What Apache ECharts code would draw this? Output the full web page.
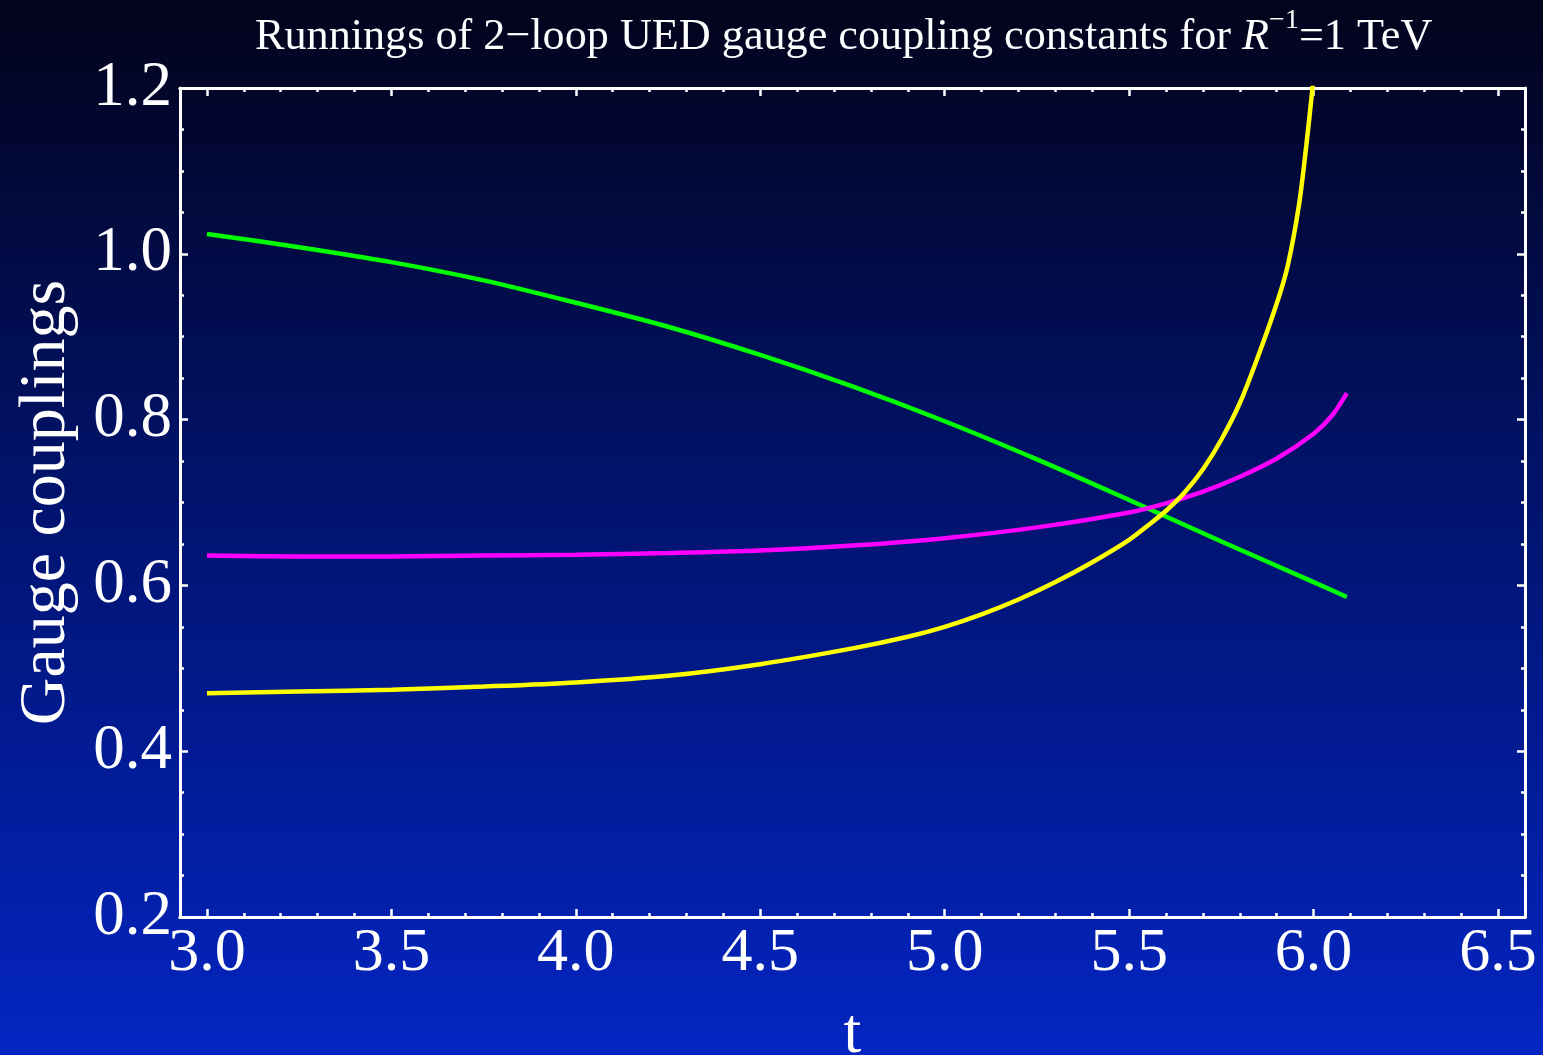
<!DOCTYPE html>
<html><head><meta charset="utf-8">
<script src="https://cdn.jsdelivr.net/npm/echarts@6/dist/echarts.min.js"></script>
<style>html,body{margin:0;padding:0;background:#000;}#c{width:1543px;height:1055px;}</style>
</head><body><div id="c"></div>
<script>
// ---- data ----
const titleMain = 'Runnings of 2\u2212loop UED gauge coupling constants for ';
const titleTail = '=1 TeV';
const xName = 't';
const yName = 'Gauge couplings';

const xMajorTicks = [3.0, 3.5, 4.0, 4.5, 5.0, 5.5, 6.0, 6.5];
const xMinorTicks = [3.0, 3.1, 3.2, 3.3, 3.4, 3.5, 3.6, 3.7, 3.8, 3.9, 4.0, 4.1, 4.2, 4.3, 4.4, 4.5, 4.6, 4.7, 4.8, 4.9,
                     5.0, 5.1, 5.2, 5.3, 5.4, 5.5, 5.6, 5.7, 5.8, 5.9, 6.0, 6.1, 6.2, 6.3, 6.4, 6.5];
const yTickLabels = [0.2, 0.4, 0.6, 0.8, 1.0, 1.2];

const tGreen = [3.0, 3.25, 3.5, 3.75, 4.0, 4.25, 4.5, 4.75, 5.0, 5.25, 5.5, 5.75, 6.0, 6.09];
const vGreen = [1.024, 1.008, 0.990, 0.968, 0.941, 0.912, 0.878, 0.840, 0.798, 0.752, 0.703, 0.653, 0.604, 0.586];

const tMagenta = [3.0, 3.25, 3.5, 3.75, 4.0, 4.25, 4.5, 4.75, 5.0, 5.25, 5.5, 5.6, 5.7, 5.8, 5.9, 6.0, 6.05, 6.09];
const vMagenta = [0.636, 0.635, 0.635, 0.636, 0.637, 0.639, 0.642, 0.648, 0.657, 0.670, 0.688, 0.699, 0.713, 0.731, 0.753, 0.783, 0.805, 0.832];

const tYellow = [3.0, 3.25, 3.5, 3.75, 4.0, 4.25, 4.5, 4.75, 4.9, 5.0, 5.1, 5.2, 5.3, 5.4, 5.5, 5.55, 5.6, 5.65, 5.7, 5.75, 5.8,
                 5.85, 5.9, 5.93, 5.96, 5.98, 5.996, 6.005];
const vYellow = [0.470, 0.472, 0.474, 0.478, 0.483, 0.491, 0.505, 0.524, 0.538, 0.550, 0.565, 0.583, 0.604, 0.628, 0.655, 0.672, 0.690, 0.712, 0.740, 0.776, 0.820,
                 0.877, 0.940, 0.986, 1.058, 1.130, 1.196, 1.236];

// ---- chart ----
const FONT = 'Liberation Serif';
const X_MIN = 2.927, X_MAX = 6.573, Y_MIN = 0.2, Y_MAX = 1.2;
const zip = (a, b) => a.map((v, i) => [v, b[i]]);

const frameLine = { show: true, onZero: false, lineStyle: { color: '#fff', width: 3 } };
function xAxisDef(pos, ticks, len, labels) {
  return {
    type: 'value', position: pos, min: X_MIN, max: X_MAX,
    axisLine: frameLine,
    axisTick: { show: true, inside: true, length: len, customValues: ticks, lineStyle: { color: '#fff', width: 2.5 } },
    axisLabel: labels ? { show: true, customValues: xMajorTicks, formatter: v => v.toFixed(1), color: '#fff',
                          fontFamily: FONT, fontSize: 62, margin: 6 } : { show: false },
    splitLine: { show: false },
    name: labels ? xName : '', nameLocation: 'middle', nameGap: 86,
    nameTextStyle: { color: '#fff', fontFamily: FONT, fontSize: 64 }
  };
}
function yAxisDef(pos, labels) {
  return {
    type: 'value', position: pos, min: Y_MIN, max: Y_MAX, interval: 0.2,
    axisLine: frameLine,
    axisTick: { show: true, inside: true, length: 8, lineStyle: { color: '#fff', width: 2.5 } },
    minorTick: { show: true, splitNumber: 4, length: 4, lineStyle: { color: '#fff', width: 2.5 } },
    axisLabel: labels ? { show: true, customValues: yTickLabels, formatter: v => v.toFixed(1), color: '#fff',
                          fontFamily: FONT, fontSize: 63, margin: 8 } : { show: false },
    splitLine: { show: false }, minorSplitLine: { show: false },
    name: labels ? yName : '', nameLocation: 'middle', nameGap: 100, nameRotate: 90,
    nameTextStyle: { color: '#fff', fontFamily: FONT, fontSize: 66 }
  };
}
function line(data, color) {
  return { type: 'line', data: data, showSymbol: false, symbol: 'none', smooth: 0.3,
           clip: true, lineStyle: { color: color, width: 4.5 }, xAxisIndex: 0, yAxisIndex: 0, z: 5 };
}

const chart = echarts.init(document.getElementById('c'), null, { renderer: 'canvas' });
chart.setOption({
  animation: false,
  backgroundColor: new echarts.graphic.LinearGradient(0, 0, 0, 1, [
    { offset: 0, color: '#03031b' }, { offset: 0.5, color: '#011472' }, { offset: 1, color: '#0425c2' }
  ]),
  title: {
    left: 250, top: 2,
    text: '{n|' + titleMain + '}{i|R}{s|\u22121}{n|' + titleTail + '}',
    textStyle: {
      fontWeight: 'normal',
      rich: {
        n: { color: '#fff', fontFamily: FONT, fontSize: 44.2, fontWeight: 'normal', lineHeight: 52, verticalAlign: 'bottom' },
        i: { color: '#fff', fontFamily: FONT, fontSize: 44.2, fontWeight: 'normal', fontStyle: 'italic', lineHeight: 52, verticalAlign: 'bottom' },
        s: { color: '#fff', fontFamily: FONT, fontSize: 28, fontWeight: 'normal', lineHeight: 52, verticalAlign: 'top' }
      }
    }
  },
  grid: { left: 180, right: 18, top: 88, bottom: 138, containLabel: false, outerBoundsMode: 'none' },
  xAxis: [
    xAxisDef('bottom', xMajorTicks, 8, true),
    xAxisDef('bottom', xMinorTicks, 4, false),
    xAxisDef('top', xMajorTicks, 8, false),
    xAxisDef('top', xMinorTicks, 4, false)
  ],
  yAxis: [yAxisDef('left', true), yAxisDef('right', false)],
  series: [
    line(zip(tGreen, vGreen), '#00ff00'),
    line(zip(tMagenta, vMagenta), '#ff00ff'),
    line(zip(tYellow, vYellow), '#ffff00')
  ]
});
</script></body></html>
